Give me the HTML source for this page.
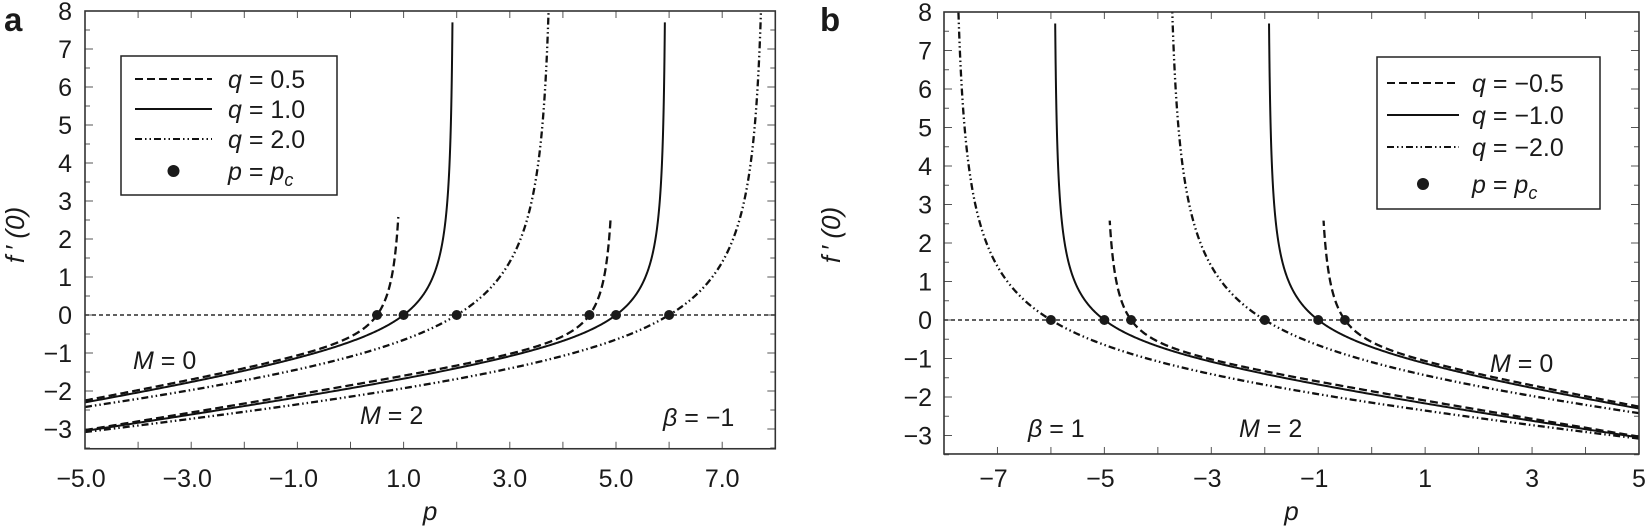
<!DOCTYPE html>
<html><head><meta charset="utf-8">
<style>
html,body{margin:0;padding:0;background:#fff;}
svg{display:block;}
text{font-family:"Liberation Sans",sans-serif;fill:#1a1a1a;}
</style></head>
<body>
<svg id="s" width="1645" height="529" viewBox="0 0 1645 529" xmlns="http://www.w3.org/2000/svg">
<text x="4" y="31" font-size="33" font-weight="bold">a</text>
<text x="820" y="31" font-size="33" font-weight="bold">b</text>
<g id="g"></g>
</svg>
<script>
var NS="http://www.w3.org/2000/svg",G=document.getElementById('g');
function el(t,a,txt){var e=document.createElementNS(NS,t);for(var k in a)e.setAttribute(k,a[k]);if(txt!=null)e.textContent=txt;G.appendChild(e);return e;}
function fitCurve(pc,pa,pe,fe,pv,v,n){
  var d=pa-pc;
  function r(p){return Math.pow(d/(pa-p),n);}
  var a1=r(pe)-1,b1=pe-pc,a2=r(pv)-1,b2=pv-pc;
  var det=a1*b2-a2*b1;
  var A=(fe*b2-v*b1)/det,k=(a1*v-a2*fe)/det;
  return {f:function(p){return A*(r(p)-1)+k*(p-pc);},from:pv,to:pe};
}
var styles={d:"8,4",s:"none",dd:"7,3,1.5,3,1.5,3"};
var curves=[
 [0.5,1.05,0.9,2.58,-2.25,'d',1],
 [1,1.95,1.92,7.7,-2.3,'s',0.5],
 [2,3.85,3.73,8,-2.42,'dd',0.5],
 [4.5,5.05,4.9,2.58,-3.03,'d',1],
 [5,5.95,5.92,7.7,-3.05,'s',0.5],
 [6,7.85,7.73,8,-3.08,'dd',0.5]
];
function panel(P){
  var X=function(p){return P.x0+(p-P.pmin)*P.sx;};
  var Y=function(f){return P.y0-f*P.sy;};
  var L=X(P.pmin),R=X(P.pmax),T=Y(8),B=Y(P.fmin);
  for(var p=Math.ceil(P.pmin);p<=P.pmax;p++){
    el('line',{x1:X(p),x2:X(p),y1:B,y2:B-7,stroke:'#555','stroke-width':1});
    el('line',{x1:X(p),x2:X(p),y1:T,y2:T+7,stroke:'#555','stroke-width':1});
  }
  for(var f=-3.5;f<=8;f+=0.5){
    var len=(f%1===0)?8:5;
    el('line',{x1:L,x2:L+len,y1:Y(f),y2:Y(f),stroke:'#555','stroke-width':1});
    el('line',{x1:R,x2:R-len,y1:Y(f),y2:Y(f),stroke:'#555','stroke-width':1});
  }
  for(var f=-3;f<=8;f++){
    el('text',{x:P.ylx,y:Y(f)+9,'font-size':25,'text-anchor':'end'},(f<0?'\u2212'+(-f):''+f));
  }
  P.xl.forEach(function(v){
    var s=P.dec?Math.abs(v).toFixed(1):''+Math.abs(v);
    el('text',{x:X(v)-(v<0?4:0),y:487,'font-size':25,'text-anchor':'middle'},(v<0?'\u2212':'')+s);
  });
  el('text',{x:(L+R)/2,y:520,'font-size':26,'font-style':'italic','text-anchor':'middle'},'p');
  el('text',{x:0,y:0,'font-size':26,'font-style':'italic','text-anchor':'middle',transform:'translate('+(P.flx)+',235) rotate(-90)'},"f\u2009\u2032 (0)");
  el('line',{x1:L,x2:R,y1:Y(0),y2:Y(0),stroke:'#000','stroke-width':1.3,'stroke-dasharray':'4,3'});
  curves.forEach(function(c){
    var C=fitCurve(c[0],c[1],c[2],c[3],-5,c[4],c[6]);
    var pts=[],N=400;
    for(var i=0;i<=N;i++){
      var t=i/N, p=C.from+(C.to-C.from)*(1-Math.pow(1-t,2.2));
      var ff=C.f(p); if(ff>8)ff=8;
      var pp=P.mir?-p:p;
      pts.push(X(pp).toFixed(2)+','+Y(ff).toFixed(2));
    }
    var a={d:'M'+pts.join('L'),fill:'none',stroke:'#111','stroke-width':c[5]=='s'?2:2.3};
    if(c[5]!='s')a['stroke-dasharray']=styles[c[5]];
    el('path',a);
    var pc=P.mir?-c[0]:c[0];
    el('circle',{cx:X(pc),cy:Y(0),r:5,fill:'#1a1a1a'});
  });
  el('rect',{x:L,y:T,width:R-L,height:B-T,fill:'none',stroke:'#333','stroke-width':1.6});
  var Lg=P.lg;
  el('rect',{x:Lg.x,y:Lg.y,width:Lg.w,height:Lg.h,fill:'#fff',stroke:'#222','stroke-width':1.5});
  var st=['d','s','dd'];
  for(var i=0;i<3;i++){
    var yy=Lg.rows[i];
    var a={x1:Lg.lx1,x2:Lg.lx2,y1:yy,y2:yy,stroke:'#111','stroke-width':2};
    if(st[i]!='s')a['stroke-dasharray']=styles[st[i]];
    el('line',a);
    var t=el('text',{x:Lg.tx,y:yy+9,'font-size':25});
    t.innerHTML='<tspan font-style="italic">q</tspan> = '+P.qs[i];
  }
  el('circle',{cx:(Lg.lx1+Lg.lx2)/2,cy:Lg.rows[3],r:6,fill:'#1a1a1a'});
  var t=el('text',{x:Lg.tx,y:Lg.rows[3]+9,'font-size':25});
  t.innerHTML='<tspan font-style="italic">p</tspan> = <tspan font-style="italic">p</tspan><tspan font-style="italic" font-size="18" dy="6">c</tspan>';
  P.ann.forEach(function(a){
    var t=el('text',{x:a[0],y:a[1],'font-size':25});
    t.innerHTML=a[2];
  });
}
panel({x0:85,pmin:-5,pmax:8,sx:53.1,y0:315,sy:38,fmin:-3.52,ylx:72,flx:24,dec:true,
  xl:[-5,-3,-1,1,3,5,7],mir:false,qs:['0.5','1.0','2.0'],
  lg:{x:121,y:56,w:216,h:139,rows:[79,109,139,171],lx1:135,lx2:212,tx:228},
  ann:[[133,369,'<tspan font-style="italic">M</tspan> = 0'],[360,424,'<tspan font-style="italic">M</tspan> = 2'],[663,426,'<tspan font-style="italic">β</tspan> = \u22121']]});
panel({x0:944,pmin:-8,pmax:5,sx:53.46,y0:320,sy:38.5,fmin:-3.48,ylx:932,flx:840,dec:false,
  xl:[-7,-5,-3,-1,1,3,5],mir:true,qs:['\u22120.5','\u22121.0','\u22122.0'],
  lg:{x:1377,y:57,w:223,h:152,rows:[83,115,147,184],lx1:1387,lx2:1459,tx:1472},
  ann:[[1490,372,'<tspan font-style="italic">M</tspan> = 0'],[1239,437,'<tspan font-style="italic">M</tspan> = 2'],[1028,437,'<tspan font-style="italic">β</tspan> = 1']]});
</script>
</body></html>
